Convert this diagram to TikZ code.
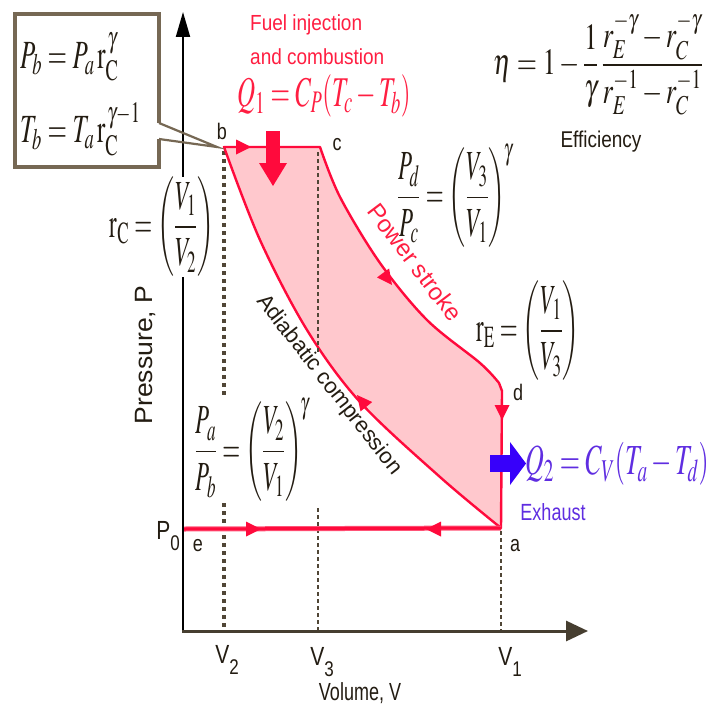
\documentclass[tikz,border=0pt]{standalone}
\usepackage{mathptmx}
\usepackage[no-math]{fontspec}
\setmainfont{Liberation Serif}
\setsansfont{Liberation Sans}
\usetikzlibrary{arrows.meta}
\definecolor{linered}{RGB}{255,10,60}
\definecolor{fillpink}{RGB}{255,200,205}
\definecolor{ink}{RGB}{35,28,18}
\definecolor{dotc}{RGB}{80,70,54}
\definecolor{boxc}{RGB}{118,104,84}
\definecolor{axisc}{RGB}{70,62,48}
\definecolor{arrowblue}{RGB}{55,0,250}
\definecolor{textblue}{RGB}{95,45,225}
\definecolor{textred}{RGB}{255,30,65}
\newcommand\fs[1]{\fontsize{#1}{#1}\selectfont}
\newcommand\subsf[1]{\raisebox{-0.45em}{\fs{17}#1}}
\newcommand\cyctip[3]{\fill[linered, shift={(#1,#2)}, rotate=#3] (0,0) -- (-15,7.5) -- (-15,-7.5) -- cycle;}
\begin{document}
\begin{tikzpicture}[x=1pt,y=-1pt,
  fm/.style={inner sep=0pt, yscale=1.6, text=ink},
  ratio/.style={inner sep=0pt, yscale=1.8, text=ink},
  lbl/.style={inner sep=0pt, font=\sffamily\fs{18}, yscale=1.25, text=ink},
  dotline/.style={dotc, line width=3.6pt, dash pattern=on 4pt off 4pt},
  thindot/.style={dotc, line width=1.8pt, dash pattern=on 3.5pt off 3.5pt}]
\useasboundingbox (0,0) rectangle (711,709);
\fill[white] (0,0) rectangle (711,709);

% dotted guides
\draw[dotline] (224,151) -- (224,631);
\draw[thindot] (501,531) -- (501,631);

% cycle
\coordinate (a) at (501,528);
\coordinate (b) at (224,147);
\coordinate (c) at (320,147);
\coordinate (d) at (502,391);
\filldraw[fill=fillpink, draw=linered, line width=2.4pt, line join=round]
  plot[smooth, tension=0.55] coordinates {(501,528) (440,477) (360,402) (307,330) (260,240) (224,147)}
  -- (c)
  -- plot[smooth, tension=0.55] coordinates {(320,147) (340,197) (380,263) (427,320) (480,363) (499,383)}
  -- (d) -- cycle;
\draw[thindot] (318,152) -- (318,352);
\draw[thindot] (318,508) -- (318,631);

% P0 line
\draw[linered!70!white, line width=5pt] (183,529) -- (a);
\draw[linered, line width=3pt] (183,529) -- (a);

% axes
\draw[black, line width=2pt, -{Triangle[length=25pt,width=14pt]}] (183,632) -- (183,12);
\draw[axisc, line width=3pt, -{Triangle[length=22pt,width=20pt]}] (182,631) -- (588,631);

% arrowheads on cycle
\cyctip{251}{147}{0}
\cyctip{392}{285}{-53.5}
\cyctip{502}{420}{-90}
\cyctip{357}{395}{128.7}
\cyctip{261}{529}{0}
\cyctip{426}{529}{180}

% heat arrows
\fill[linered] (266,131) rectangle (280,164);
\fill[linered] (259,163) -- (287,163) -- (273,186) -- cycle;
\fill[arrowblue] (490,455) rectangle (511,472);
\fill[arrowblue] (510,442) -- (526,463.5) -- (510,485) -- cycle;

% callout box
\draw[boxc, line width=3.5pt, line join=miter] (159,123) -- (159,14) -- (15,14) -- (15,167) -- (159,167) -- (159,139);
\draw[boxc, line width=2.2pt] (159,123) -- (217,147) -- (159,139);
\node[fm, anchor=west] (pb) at (20,57) {\fs{25}$P_b = P_a\,\mathrm{r}_{\mathrm{C}}^{\,\gamma}$};
\node[fm, anchor=west] (tb) at (20,129) {\fs{25}$T_b = T_a\,\mathrm{r}_{\mathrm{C}}^{\,\gamma-1}$};

% point labels
\node[lbl] (lb) at (222,131) {b};
\node[lbl] (lc) at (337,145) {c};
\node[lbl] (ld) at (518,392) {d};
\node[lbl] (la) at (515,546) {a};
\node[lbl] (le) at (198,546) {e};
\node[lbl, font=\sffamily\fs{21}] (p0) at (168,536) {P\subsf{0}};

% axis labels
\node[lbl, font=\sffamily\fs{21}] (v2) at (227,660) {V\subsf{2}};
\node[lbl, font=\sffamily\fs{21}] (v3) at (322,662) {V\subsf{3}};
\node[lbl, font=\sffamily\fs{21}] (v1) at (510,662) {V\subsf{1}};
\node[lbl, font=\sffamily\fs{18}, yscale=1.1] (vol) at (360,693) {Volume, V};
\node[lbl, font=\sffamily\fs{25}, yscale=0.85, rotate=90] (pres) at (145,355) {Pressure, P};

% red texts
\node[inner sep=0pt, anchor=west, font=\sffamily\fs{19}, yscale=1.15, text=textred] (fuel1) at (250,25) {Fuel injection};
\node[inner sep=0pt, anchor=west, font=\sffamily\fs{19}, yscale=1.15, text=textred] (fuel2) at (250,57) {and combustion};
\node[fm, yscale=1.06, text=textred] (q1) at (324,96) {\fs{25}$Q_1 = C_P(T_c - T_b)$};
\node[inner sep=0pt, font=\sffamily\fs{24}, text=textred, rotate=-53] (pow) at (415,262) {Power stroke};
\node[inner sep=0pt, font=\sffamily\fs{22}, text=ink, rotate=-52] (adi) at (329,385) {Adiabatic compression};

% efficiency
\node[inner sep=0pt, text=ink, yscale=1.42] (eta) at (598,64) {\fs{26}$\eta = 1 - \displaystyle\frac{1}{\gamma}\,\frac{r_E^{-\gamma} - r_C^{-\gamma}}{r_E^{-1} - r_C^{-1}}$};
\node[lbl, font=\sffamily\fs{19}, yscale=0.96] (eff) at (601,142) {Efficiency};

% ratio formulas
\node[ratio, fill=white] (rc) at (162,227) {\fs{23}$\mathrm{r}_{\mathrm{C}} = \biggl(\displaystyle\frac{V_1}{V_2}\biggr)$};
\node[ratio] (pdpc) at (455,196) {\fs{23}$\displaystyle\frac{P_d}{P_c} = \biggl(\frac{V_3}{V_1}\biggr)^{\!\gamma}$};
\node[ratio] (re) at (528,331) {\fs{23}$\mathrm{r}_{\mathrm{E}} = \biggl(\displaystyle\frac{V_1}{V_3}\biggr)$};
\node[ratio, fill=white] (papb) at (252,450) {\fs{23}$\displaystyle\frac{P_a}{P_b} = \biggl(\frac{V_2}{V_1}\biggr)^{\!\gamma}$};

% exhaust
\node[fm, yscale=1.03, text=textblue] (q2) at (617,464) {\fs{26}$Q_2 = C_V(T_a - T_d)$};
\node[inner sep=0pt, font=\sffamily\fs{18}, yscale=1.3, text=textblue] (exh) at (553,512) {Exhaust};
\end{tikzpicture}
\end{document}
